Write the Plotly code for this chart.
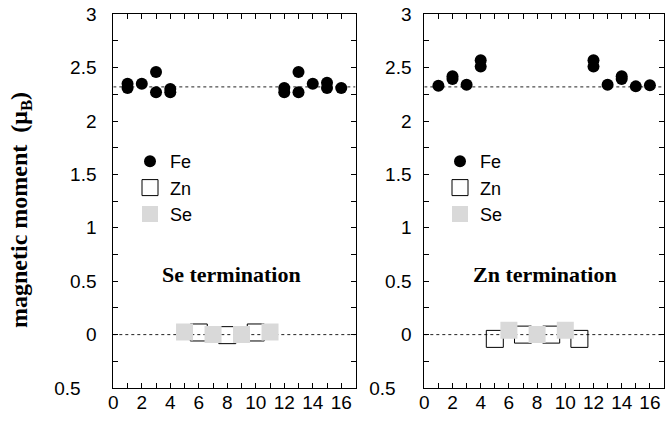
import plotly.graph_objects as go

# ---- data ----
x_ticks = list(range(0, 17))
x_ticktext = [str(v) if v % 2 == 0 else "" for v in x_ticks]
y_ticks = [-0.5, -0.25, 0, 0.25, 0.5, 0.75, 1, 1.25, 1.5, 1.75, 2, 2.25, 2.5, 2.75, 3]
y_ticktext = ["0.5\u00a0\u00a0\u00a0", "", "0", "", "0.5", "", "1", "", "1.5", "", "2", "", "2.5", "", "3"]

ref_levels = [2.32, 0.0]
ref_x = [0, 17]

# Se termination panel
se_fe_x = [1, 1, 2, 3, 3, 4, 4, 12, 12, 13, 13, 14, 15, 15, 16]
se_fe_y = [2.35, 2.31, 2.35, 2.46, 2.27, 2.30, 2.27, 2.31, 2.27, 2.46, 2.27, 2.35, 2.36, 2.31, 2.31]
se_zn_x = [6, 8, 10]
se_zn_y = [0.02, -0.005, 0.02]
se_se_x = [5, 7, 9, 11]
se_se_y = [0.025, 0.0, 0.0, 0.025]

# Zn termination panel
zn_fe_x = [1, 2, 2, 3, 4, 4, 12, 12, 13, 14, 14, 15, 16]
zn_fe_y = [2.33, 2.42, 2.395, 2.34, 2.57, 2.51, 2.57, 2.51, 2.34, 2.42, 2.395, 2.325, 2.335]
zn_zn_x = [5, 7, 9, 11]
zn_zn_y = [-0.04, 0.0, 0.0, -0.04]
zn_se_x = [6, 8, 10]
zn_se_y = [0.04, 0.0, 0.04]

panel_labels = ["Se termination", "Zn termination"]
y_title = "magnetic moment\u00a0\u00a0(\u03bc<sub>B</sub>)"

SANS = "Liberation Sans, Arial, sans-serif"
SERIF = "Liberation Serif, Times New Roman, serif"
GRAY = "#d9d9d9"

fig = go.Figure()

panels = [
    ("x", "y", "legend", se_fe_x, se_fe_y, se_zn_x, se_zn_y, se_se_x, se_se_y),
    ("x2", "y2", "legend2", zn_fe_x, zn_fe_y, zn_zn_x, zn_zn_y, zn_se_x, zn_se_y),
]

for xa, ya, leg, fx, fy, zx, zy, sx, sy in panels:
    for lvl in ref_levels:
        fig.add_trace(go.Scatter(x=ref_x, y=[lvl, lvl], mode="lines", xaxis=xa, yaxis=ya,
                                 line=dict(color="#222222", width=1, dash="dot"),
                                 showlegend=False, hoverinfo="skip"))
    fig.add_trace(go.Scatter(x=fx, y=fy, mode="markers", name="Fe", xaxis=xa, yaxis=ya, legend=leg,
                             marker=dict(symbol="circle", size=12, color="black", line=dict(width=0))))
    fig.add_trace(go.Scatter(x=zx, y=zy, mode="markers", name="Zn", xaxis=xa, yaxis=ya, legend=leg,
                             marker=dict(symbol="square-open", size=17, color="black", line=dict(width=1, color="black"))))
    fig.add_trace(go.Scatter(x=sx, y=sy, mode="markers", name="Se", xaxis=xa, yaxis=ya, legend=leg,
                             marker=dict(symbol="square", size=17, color=GRAY, line=dict(width=0))))

x_common = dict(range=[0, 17], tickmode="array", tickvals=x_ticks, ticktext=x_ticktext,
                ticks="inside", ticklen=5, tickwidth=1, tickcolor="black",
                showline=True, linecolor="black", linewidth=1, mirror="allticks",
                showgrid=False, zeroline=False, automargin=False, ticklabelstandoff=-3,
                tickfont=dict(family=SANS, size=19, color="black"))
y_common = dict(range=[-0.5, 3], tickmode="array", tickvals=y_ticks, ticktext=y_ticktext,
                ticks="inside", ticklen=5, tickwidth=1, tickcolor="black",
                showline=True, linecolor="black", linewidth=1, mirror="allticks",
                showgrid=False, zeroline=False, automargin=False,
                tickfont=dict(family=SANS, size=19, color="black"))

W, H = 666, 423
ydom = [1 - 388 / H, 1 - 14.3 / H]

legend_common = dict(bgcolor="rgba(0,0,0,0)", borderwidth=0, itemsizing="trace",
                     font=dict(family=SANS, size=18, color="black"),
                     tracegroupgap=0, xanchor="left", yanchor="top", itemclick=False)

fig.update_layout(
    width=W, height=H,
    margin=dict(l=0, r=0, t=0, b=0, autoexpand=False),
    paper_bgcolor="white", plot_bgcolor="white",
    xaxis=dict(domain=[113.3 / W, 355.5 / W], anchor="y", **x_common),
    yaxis=dict(domain=ydom, anchor="x", ticklabelstandoff=12, **y_common),
    xaxis2=dict(domain=[424.3 / W, 664 / W], anchor="y2", **x_common),
    yaxis2=dict(domain=ydom, anchor="x2", ticklabelstandoff=8, **y_common),
    legend=dict(x=130 / W, y=1 - 143 / H, **legend_common),
    legend2=dict(x=440 / W, y=1 - 143 / H, **legend_common),
    showlegend=True,
)

# panel labels
for lbl, cx in zip(panel_labels, [231.7 / W, 545 / W]):
    fig.add_annotation(text=lbl, xref="paper", yref="paper", x=cx, y=1 - 274 / H,
                       xanchor="center", yanchor="middle", showarrow=False,
                       font=dict(family=SERIF, size=22, color="black", weight="bold"))

fig.add_annotation(text=y_title, xref="paper", yref="paper", x=21 / W, y=1 - 210 / H,
                   xanchor="center", yanchor="middle", showarrow=False, textangle=-90,
                   font=dict(family=SERIF, size=24, color="black", weight="bold"))

fig.write_html("out.html", config={"displayModeBar": False},
               post_script="document.body.style.margin='0px';")
